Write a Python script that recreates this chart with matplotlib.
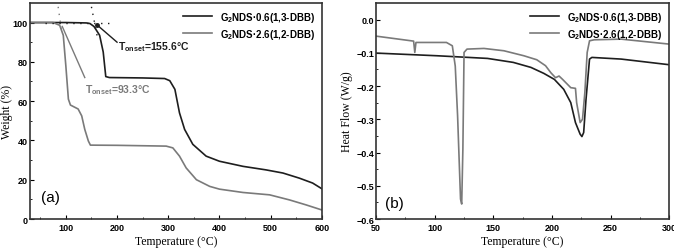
import matplotlib
matplotlib.use("Agg")
import matplotlib.pyplot as plt

## donnees TGA (a)
tga_t_noir = [30, 100, 140, 147, 155, 166, 173, 178, 185, 250, 293, 303, 313, 322, 332, 348, 374, 400, 446, 491, 524, 556, 582, 600]
tga_w_noir = [100, 100, 99.8, 99.5, 98, 93.5, 85, 72.5, 72, 71.8, 71.5, 70.4, 66, 54, 45.6, 38, 32, 29.4, 26.8, 25, 23.4, 20.8, 18.3, 15.4]
tga_t_gris = [30, 75, 88, 95, 100, 105, 109, 124, 131, 137, 144, 148, 200, 296, 309, 322, 335, 355, 381, 400, 446, 498, 537, 569, 600]
tga_w_gris = [100, 100, 98.6, 93.5, 78, 61, 58, 56, 52.5, 45.6, 39.7, 37.6, 37.5, 37.1, 36.2, 32, 26, 20, 16.6, 15.2, 13.5, 12.3, 9.7, 7.2, 4.6]

## donnees DSC (b)
dsc_t_noir = [50, 102, 145, 167, 182, 193, 202, 210, 216, 220, 224, 225.5, 227, 229, 232, 234, 259, 300]
dsc_h_noir = [-0.101, -0.109, -0.117, -0.129, -0.144, -0.162, -0.18, -0.21, -0.25, -0.31, -0.345, -0.352, -0.34, -0.24, -0.119, -0.114, -0.119, -0.136]
dsc_t_gris = [50, 82, 83, 84, 102, 110, 115, 117.5, 119.5, 122, 123, 124, 125, 127.5, 142, 159, 176, 187, 194.5, 199, 203, 206, 209, 216, 220, 221, 224, 226, 228, 230, 232, 236, 259, 300]
dsc_h_gris = [-0.05, -0.065, -0.099, -0.069, -0.069, -0.069, -0.079, -0.14, -0.29, -0.54, -0.555, -0.39, -0.099, -0.089, -0.087, -0.094, -0.109, -0.121, -0.139, -0.16, -0.175, -0.17, -0.18, -0.205, -0.207, -0.25, -0.31, -0.30, -0.22, -0.099, -0.064, -0.061, -0.059, -0.074]

labels = ["G$_2$NDS·0.6(1,3-DBB)", "G$_2$NDS·2.6(1,2-DBB)"]
noir = "#1e1e1e"
gris = "#7a7a7a"

plt.rcParams['font.family'] = ['Liberation Sans', 'DejaVu Sans']
plt.rcParams['mathtext.fontset'] = 'custom'
plt.rcParams['mathtext.rm'] = 'Liberation Sans:bold'
plt.rcParams['mathtext.it'] = 'Liberation Sans:bold'

fig = plt.figure(figsize=(6.74, 2.51), dpi=100)
ax1 = fig.add_axes([0.0445, 0.1235, 0.433, 0.861])
ax2 = fig.add_axes([0.558, 0.1235, 0.435, 0.861])

def style(ax):
    ax.tick_params(direction="in", which="both", top=False, right=False, labelsize=6.5, pad=1.5)
    ax.tick_params(axis="x", pad=3)
    ax.tick_params(which="major", length=3)
    ax.tick_params(which="minor", length=1.5)
    for lab in ax.get_xticklabels() + ax.get_yticklabels():
        lab.set_fontweight("bold")
    for s in ax.spines.values():
        s.set_linewidth(1.2)
        s.set_color("#333333")

# (a) TGA
ax1.plot(tga_t_noir, tga_w_noir, color=noir, lw=1.2, label=labels[0])
ax1.plot(tga_t_gris, tga_w_gris, color=gris, lw=1.2, label=labels[1])
ax1.set_xlim(30, 600)
ax1.set_ylim(0, 110)
ax1.set_xticks([100, 200, 300, 400, 500, 600])
ax1.set_xticks(range(50, 600, 50), minor=True)
ax1.set_yticks([0, 20, 40, 60, 80, 100])
ax1.set_yticks(range(10, 110, 20), minor=True)
style(ax1)
ax1.set_xlabel("Temperature (°C)", family="Liberation Serif", fontsize=8.5, labelpad=2)
ax1.set_ylabel("Weight (%)", family="Liberation Serif", fontsize=8.5, labelpad=0)
# tangentes (onset)
ax1.plot([60, 195], [100, 100], ls=(0, (1, 4)), color=noir, lw=1)
ax1.plot([150, 162], [108, 92], ls=(0, (1, 4)), color=noir, lw=1)
ax1.plot([85, 92], [108, 95], ls=(0, (1, 4)), color=gris, lw=1)
ax1.plot([160, 200], [99, 90], color=noir, lw=1)
ax1.plot([160], [99], marker="o", ms=2.5, color=noir)
ax1.plot([93, 137], [98, 72], color=gris, lw=1)
ax1.text(202, 88, "T$_{onset}$=155.6°C", fontsize=7.5, fontweight="bold", color=noir, va="center")
ax1.text(137, 66, "T$_{onset}$=93.3°C", fontsize=7.5, fontweight="bold", color=gris, va="center")
ax1.text(52, 9, "(a)", fontsize=11)
ax1.legend(loc="upper right", frameon=False, prop={"size": 7, "weight": "bold"},
           handlelength=3, borderaxespad=0.3, labelspacing=0.3)

# (b) DSC
ax2.plot(dsc_t_noir, dsc_h_noir, color=noir, lw=1.2, label=labels[0])
ax2.plot(dsc_t_gris, dsc_h_gris, color=gris, lw=1.2, label=labels[1])
ax2.set_xlim(50, 300)
ax2.set_ylim(-0.6, 0.05)
ax2.set_xticks([50, 100, 150, 200, 250, 300])
ax2.set_xticks(range(75, 300, 25), minor=True)
ax2.set_yticks([-0.6, -0.5, -0.4, -0.3, -0.2, -0.1, 0.0])
ax2.set_yticks([-0.55, -0.45, -0.35, -0.25, -0.15, -0.05], minor=True)
style(ax2)
ax2.set_xlabel("Temperature (°C)", family="Liberation Serif", fontsize=8.5, labelpad=2)
ax2.set_ylabel("Heat Flow (W/g)", family="Liberation Serif", fontsize=8.5, labelpad=2)
ax2.text(58, -0.565, "(b)", fontsize=11)
ax2.legend(loc="upper right", frameon=False, prop={"size": 7, "weight": "bold"},
           handlelength=3, borderaxespad=0.3, labelspacing=0.3)

fig.savefig("out.png", dpi=100)
